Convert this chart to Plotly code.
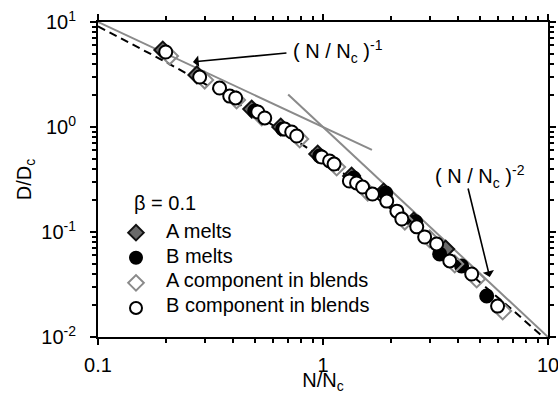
import plotly.graph_objects as go

# ---- data ----
a_melts_x = [0.194, 0.275, 0.482, 0.649, 0.947, 1.34, 1.86, 2.53, 3.51]
a_melts_y = [5.41, 3.13, 1.48, 1.00, 0.553, 0.341, 0.240, 0.127, 0.0689]

b_melts_x = [0.497, 0.662, 0.967, 1.37, 1.90, 2.58, 3.30, 4.13, 5.34]
b_melts_y = [1.42, 0.957, 0.530, 0.327, 0.235, 0.125, 0.0617, 0.0475, 0.0246]

a_blend_x = [0.208, 0.298, 0.413, 0.534, 0.788, 1.15, 1.58, 2.31, 2.98, 3.85, 4.82, 6.29]
a_blend_y = [4.74, 2.80, 1.81, 1.25, 0.769, 0.416, 0.240, 0.127, 0.0858, 0.0496, 0.0357, 0.0177]

b_blend_x = [0.200, 0.283, 0.347, 0.385, 0.409, 0.513, 0.551, 0.676, 0.726, 0.764,
             0.987, 1.07, 1.12, 1.31, 1.41, 1.50, 1.66, 1.92, 2.13, 2.24,
             2.61, 2.83, 3.20, 3.66, 4.58, 5.97]
b_blend_y = [5.18, 2.99, 2.35, 1.97, 1.89, 1.39, 1.22, 0.957, 0.896, 0.821,
             0.518, 0.475, 0.444, 0.306, 0.293, 0.268, 0.230, 0.197, 0.158, 0.133,
             0.112, 0.0896, 0.0769, 0.053, 0.0398, 0.0197]

# model crossover curve (dashed)
model_x = [0.1, 0.15, 0.2, 0.3, 0.5, 0.7, 1.0, 1.5, 2.0, 3.0, 5.0, 7.0, 10.0]
model_y = [9.09, 5.80, 4.17, 2.56, 1.33, 0.840, 0.500, 0.267, 0.167, 0.0833, 0.0333, 0.0179, 0.00909]

# power-law guide lines
slope1_x = [0.1, 1.65]
slope1_y = [10.0, 0.606]
slope2_x = [0.70, 10.0]
slope2_y = [2.04, 0.01]

x_tickvals = [0.1, 1, 10]
x_ticktext = ["0.1", "1", "10"]
y_tickvals = [0.01, 0.1, 1, 10]
y_ticktext = ["10<sup>-2</sup>", "10<sup>-1</sup>", "10<sup>0</sup>", "10<sup>1</sup>"]
x_minor = [0.2, 0.3, 0.4, 0.5, 0.6, 0.7, 0.8, 0.9, 2, 3, 4, 5, 6, 7, 8, 9]
y_minor = [0.02, 0.03, 0.04, 0.05, 0.06, 0.07, 0.08, 0.09,
           0.2, 0.3, 0.4, 0.5, 0.6, 0.7, 0.8, 0.9,
           2, 3, 4, 5, 6, 7, 8, 9]

legend_title = "\u03b2 = 0.1"
legend_labels = ["A melts", "B melts", "A component in blends", "B component in blends"]
label1 = "( N / N<sub>c</sub> )<sup>-1</sup>"
label2 = "( N / N<sub>c</sub> )<sup>-2</sup>"

FONT = "Liberation Sans, Arial, sans-serif"
NB = "\u00a0"

fig = go.Figure()

fig.add_trace(go.Scatter(x=model_x, y=model_y, mode="lines", showlegend=False,
                         line=dict(color="black", width=2, dash="8px,5px")))
fig.add_trace(go.Scatter(x=slope1_x, y=slope1_y, mode="lines", showlegend=False,
                         line=dict(color="#8a8a8a", width=2)))
fig.add_trace(go.Scatter(x=slope2_x, y=slope2_y, mode="lines", showlegend=False,
                         line=dict(color="#8a8a8a", width=2)))

fig.add_trace(go.Scatter(x=a_melts_x, y=a_melts_y, mode="markers", name=NB,
                         marker=dict(symbol="diamond", size=13, color="#6a6a6a",
                                     line=dict(color="#111111", width=2))))
fig.add_trace(go.Scatter(x=b_melts_x, y=b_melts_y, mode="markers", name=NB,
                         marker=dict(symbol="circle", size=13, color="black",
                                     line=dict(color="black", width=2))))
fig.add_trace(go.Scatter(x=a_blend_x, y=a_blend_y, mode="markers", name=NB,
                         marker=dict(symbol="diamond-open", size=13, color="#8a8a8a",
                                     line=dict(color="#8a8a8a", width=2))))
fig.add_trace(go.Scatter(x=b_blend_x, y=b_blend_y, mode="markers", name=NB,
                         marker=dict(symbol="circle", size=13, color="white",
                                     line=dict(color="black", width=2))))

axis_common = dict(
    type="log", showgrid=False, zeroline=False, automargin=False,
    showline=True, linecolor="black", linewidth=2, mirror="ticks",
    ticks="outside", ticklen=6, tickwidth=2, tickcolor="black",
    tickfont=dict(family=FONT, size=20, color="black"),
    ticklabeloverflow="allow",
)

fig.update_xaxes(
    **axis_common, range=[-1, 1], tickmode="array",
    tickvals=x_tickvals, ticktext=x_ticktext, ticklabelstandoff=3,
    minor=dict(ticks="outside", ticklen=4, tickwidth=1.5, tickcolor="black",
               tickmode="array", tickvals=x_minor),
    title=dict(text="N/N<sub>c</sub>", font=dict(family=FONT, size=20, color="black"),
               standoff=12),
)
fig.update_yaxes(
    **axis_common, range=[-2, 1], tickmode="array",
    tickvals=y_tickvals, ticktext=y_ticktext, ticklabelstandoff=10,
    minor=dict(ticks="outside", ticklen=4, tickwidth=1.5, tickcolor="black",
               tickmode="array", tickvals=y_minor),
    title=dict(text="D/D<sub>c</sub>", font=dict(family=FONT, size=20, color="black"),
               standoff=4),
)

# power-law labels and their arrows
fig.add_annotation(x=0.4289, y=0.9048, xref="paper", yref="paper", text=label1,
                   showarrow=False, xanchor="left", yanchor="middle",
                   font=dict(family=FONT, size=20, color="black"))
fig.add_annotation(x=-0.578, y=0.62, xref="x", yref="y", text="",
                   showarrow=True, ax=95, ay=-9, arrowhead=1, arrowsize=1.2,
                   arrowwidth=1.6, arrowcolor="black")
fig.add_annotation(x=0.7444, y=0.508, xref="paper", yref="paper", text=label2,
                   showarrow=False, xanchor="left", yanchor="middle",
                   font=dict(family=FONT, size=20, color="black"))
fig.add_annotation(x=0.741, y=-1.429, xref="x", yref="y", text="",
                   showarrow=True, ax=-22, ay=-90, arrowhead=1, arrowsize=1.2,
                   arrowwidth=1.6, arrowcolor="black")

# legend texts (the symbols come from the plotly legend)
fig.add_annotation(x=0.0756, y=0.4254, xref="paper", yref="paper", text=legend_title,
                   showarrow=False, xanchor="left", yanchor="middle",
                   font=dict(family=FONT, size=20, color="black"))
label_y = [0.3365, 0.2571, 0.181, 0.1016]
for lab, ly in zip(legend_labels, label_y):
    fig.add_annotation(x=0.147, y=ly, xref="paper", yref="paper", text=lab,
                       showarrow=False, xanchor="left", yanchor="middle",
                       font=dict(family=FONT, size=20, color="black"))

fig.update_layout(
    width=558, height=394,
    margin=dict(l=98, r=10, t=22, b=57),
    paper_bgcolor="white", plot_bgcolor="white",
    font=dict(family=FONT, color="black"),
    legend=dict(x=0.040, y=0.387, xanchor="left", yanchor="top",
                bgcolor="rgba(0,0,0,0)", borderwidth=0,
                font=dict(family=FONT, size=17, color="black"),
                tracegroupgap=0, itemsizing="constant", itemwidth=30),
)

fig.write_html("out.html")
